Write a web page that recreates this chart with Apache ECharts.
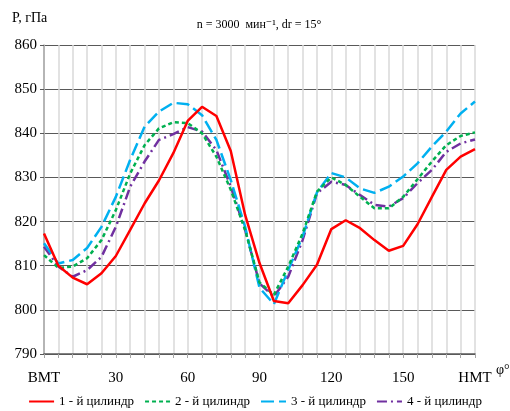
<!DOCTYPE html>
<html>
<head>
<meta charset="utf-8">
<script src="https://cdn.jsdelivr.net/npm/echarts@6/dist/echarts.min.js"></script>
<style>
  html, body { margin: 0; padding: 0; background: #fff; }
  #chart { width: 510px; height: 411px; }
</style>
</head>
<body>
<div id="chart"></div>
<script>
// угол поворота коленвала, град (шаг 6°)
var angles = [0, 6, 12, 18, 24, 30, 36, 42, 48, 54, 60, 66, 72, 78, 84, 90,
              96, 102, 108, 114, 120, 126, 132, 138, 144, 150, 156, 162, 168, 174, 180];

var cyl1 = [817.3, 810.0, 807.3, 805.8, 808.3, 812.2, 818.1, 824.1, 829.3, 835.5, 842.8, 846.0, 843.9, 836.0, 821.5, 810.6,
            802.0, 801.5, 805.6, 810.2, 818.3, 820.3, 818.5, 815.8, 813.4, 814.5, 819.4, 825.6, 831.7, 834.7, 836.4];
var cyl2 = [812.4, 809.5, 809.8, 811.7, 815.8, 822.6, 830.9, 837.3, 841.1, 842.5, 842.3, 840.0, 834.7, 827.2, 818.1, 806.2,
            803.4, 809.8, 817.3, 826.8, 830.0, 828.3, 825.6, 823.0, 823.0, 825.6, 829.6, 833.6, 837.3, 839.4, 840.2];
var cyl3 = [815.1, 810.5, 811.3, 814.0, 818.8, 825.6, 834.0, 841.5, 844.9, 846.9, 846.6, 844.1, 838.5, 829.4, 818.8, 805.0,
            801.3, 809.0, 816.6, 826.6, 831.0, 830.0, 827.5, 826.5, 827.9, 830.2, 833.2, 837.0, 840.4, 844.5, 847.2];
var cyl4 = [814.3, 809.8, 807.5, 809.0, 812.0, 818.8, 827.9, 833.6, 838.5, 839.8, 841.4, 840.4, 836.2, 827.9, 818.1, 806.0,
            803.0, 807.5, 815.8, 826.4, 829.0, 828.3, 826.0, 823.8, 823.4, 825.3, 828.7, 831.7, 835.8, 837.7, 838.6];

var names = ['1 - й цилиндр', '2 - й цилиндр', '3 - й цилиндр', '4 - й цилиндр'];
var colors = ['#ff0000', '#00b050', '#00b0f0', '#7030a0'];
var dashes = ['solid', [4, 3], [13, 5], [10, 4, 2, 4]];
var xLabels = { 0: 'ВМТ', 30: '30', 60: '60', 90: '90', 120: '120', 150: '150', 180: 'НМТ' };

var serif = '"Liberation Serif", "DejaVu Serif", serif';

function pairs(vals) {
    return angles.map(function (a, i) { return [a, vals[i]]; });
}

var chart = echarts.init(document.getElementById('chart'));

var option = {
    animation: false,
    title: [
        {
            text: 'n = 3000  мин⁻¹, dr = 15°',
            left: 254, top: 14, textAlign: 'center',
            textStyle: { fontFamily: serif, fontSize: 12, fontWeight: 'normal', color: '#000' }
        },
        {
            text: 'P, гПа',
            left: 7, top: 6,
            textStyle: { fontFamily: serif, fontSize: 14, fontWeight: 'normal', color: '#000' }
        }
    ],
    graphic: [
        {
            type: 'text', left: 496, top: 363,
            style: { text: 'φ°', font: '14px ' + serif, fill: '#000' }
        }
    ],
    grid: { left: 44, right: 35, top: 45, bottom: 57, outerBoundsMode: 'none' },
    legend: {
        data: names,
        bottom: -2, left: 'center',
        itemWidth: 25, itemHeight: 10, itemGap: 10,
        itemStyle: { opacity: 0 },
        textStyle: { fontFamily: serif, fontSize: 13, color: '#000' }
    },
    xAxis: {
        type: 'value', min: 0, max: 180, interval: 6,
        axisLine: { lineStyle: { color: '#595959', width: 1.5 } },
        axisTick: { show: true, length: 4, lineStyle: { color: '#a6a6a6' } },
        splitLine: { show: true, lineStyle: { color: '#d9d9d9', width: 1.5 } },
        axisLabel: {
            margin: 17, fontFamily: serif, fontSize: 15, color: '#000',
            formatter: function (v) { return xLabels[v] !== undefined ? xLabels[v] : ''; }
        }
    },
    yAxis: {
        type: 'value', min: 790, max: 860, interval: 10,
        axisLine: { show: true, lineStyle: { color: '#a6a6a6', width: 1.5 } },
        axisTick: { show: true, length: 4, lineStyle: { color: '#595959' } },
        splitLine: { show: true, lineStyle: { color: '#595959', width: 1 } },
        axisLabel: { margin: 7, fontFamily: serif, fontSize: 15, color: '#000' }
    },
    series: [cyl1, cyl2, cyl3, cyl4].map(function (vals, i) {
        return {
            name: names[i],
            type: 'line',
            data: pairs(vals),
            symbol: 'none',
            color: colors[i],
            lineStyle: { color: colors[i], width: 2.5, type: dashes[i] },
            z: 10 - i
        };
    })
};

chart.setOption(option);
</script>
</body>
</html>
